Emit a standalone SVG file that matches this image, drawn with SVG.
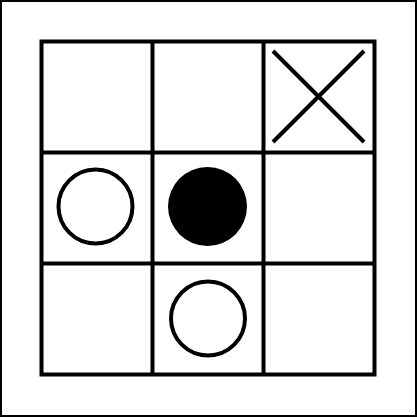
<svg xmlns="http://www.w3.org/2000/svg" width="417" height="417" viewBox="0 0 417 417">
<style>
.ln{stroke:#000;stroke-width:4;fill:none}
.o{stroke:#000;stroke-width:4;fill:#fff}
</style>
<rect x="0" y="0" width="417" height="417" fill="#fff" stroke="#000" stroke-width="4"/>
<g id="board">
<rect class="ln" x="41.5" y="41.5" width="333" height="333"/>
<line class="ln" x1="152.5" y1="41.5" x2="152.5" y2="374.5"/>
<line class="ln" x1="263.5" y1="41.5" x2="263.5" y2="374.5"/>
<line class="ln" x1="41.5" y1="152.5" x2="374.5" y2="152.5"/>
<line class="ln" x1="41.5" y1="263.5" x2="374.5" y2="263.5"/>
</g>
<g id="x-mark">
<line class="ln" x1="273" y1="51" x2="364" y2="142"/>
<line class="ln" x1="364" y1="51" x2="273" y2="142"/>
</g>
<g id="o1"><circle class="o" cx="95.5" cy="206.5" r="37"/></g>
<g id="o2"><circle cx="207.5" cy="206.5" r="39.5" fill="#000"/></g>
<g id="o3"><circle class="o" cx="208" cy="318.5" r="37"/></g>
</svg>
